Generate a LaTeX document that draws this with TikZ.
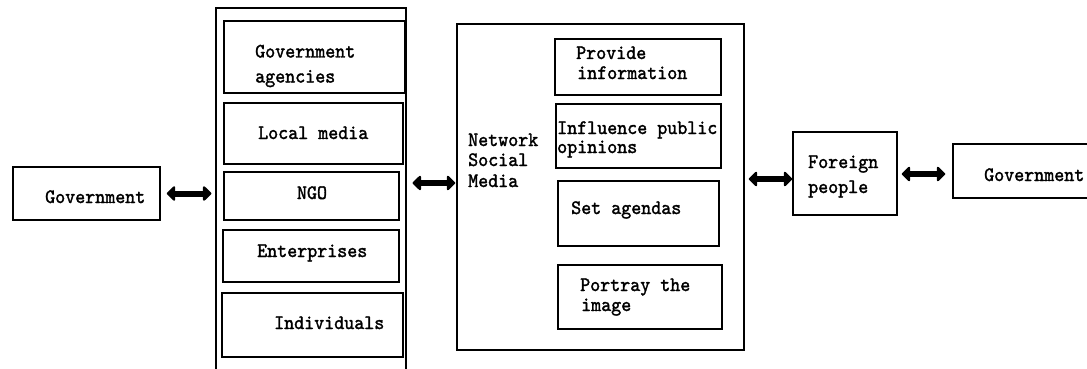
\documentclass[tikz,border=0pt]{standalone}
\usepackage{fontspec}
\usetikzlibrary{arrows.meta}
\newfontfamily\diagfont[FakeBold=1.6,FakeStretch=0.93]{lmmono10-regular.otf}
\begin{document}
\begin{tikzpicture}[x=1pt,y=-1pt,
  box/.style={draw, line width=1.5pt, inner sep=0pt, minimum width=#1},
  lbl/.style={inner sep=0pt, font=\diagfont\fontsize{20.5}{20}\selectfont, anchor=base west},
  dbl/.style={line width=6pt, {Triangle[length=9pt,width=17pt,round]}-{Triangle[length=9pt,width=17pt,round]}}
]
\useasboundingbox (0,0) rectangle (1087,369);
\fill[white] (0,0) rectangle (1087,369);
% boxes
\node[box=147pt, minimum height=53pt] (govL) at (86.5,193.5) {};
\node[box=190pt, minimum height=372pt, line width=1.2pt] (outer) at (311,194) {};
\node[box=181pt, minimum height=72pt] (ga) at (314.5,57) {};
\node[box=179pt, minimum height=61pt] (lm) at (313.5,133.5) {};
\node[box=175pt, minimum height=48pt] (ngo) at (311.5,196) {};
\node[box=176pt, minimum height=52pt] (ent) at (311,256) {};
\node[box=181pt, minimum height=64pt] (ind) at (312.5,325) {};
\node[box=287pt, minimum height=326pt] (nsm) at (600.5,187) {};
\node[box=166pt, minimum height=56pt] (pi) at (638,67) {};
\node[box=165pt, minimum height=64pt] (ipo) at (638.5,136) {};
\node[box=161pt, minimum height=65pt] (sa) at (638.5,213.5) {};
\node[box=164pt, minimum height=64pt] (pt) at (640,297) {};
\node[box=104pt, minimum height=83pt] (fp) at (845,173.5) {};
\node[box=147pt, minimum height=54pt] (govR) at (1026.5,171) {};
% texts
\node[lbl] (tgovL) at (45,203) {Government};
\node[lbl] (tga1) at (255,57.5) {Government};
\node[lbl] (tga2) at (255,82.5) {agencies};
\node[lbl] (tlm) at (258,139) {Local media};
\node[lbl, anchor=base] (tngo) at (312,199) {NGO};
\node[lbl] (tent) at (257,257) {Enterprises};
\node[lbl] (tind) at (274,329) {Individuals};
\node[lbl] (tn1) at (468,146) {Network};
\node[lbl] (tn2) at (468,166) {Social};
\node[lbl] (tn3) at (468,187) {Media};
\node[lbl] (tpi1) at (576,59) {Provide};
\node[lbl] (tpi2) at (577,79) {information};
\node[lbl] (tipo1) at (557,134) {Influence public};
\node[lbl] (tipo2) at (557,153) {opinions};
\node[lbl] (tsa) at (571,214) {Set agendas};
\node[lbl] (tpt1) at (580,291) {Portray the};
\node[lbl] (tpt2) at (581,311) {image};
\node[lbl] (tfp1) at (808,168) {Foreign};
\node[lbl] (tfp2) at (808,193) {people};
\node[lbl] (tgovR) at (984,181) {Government};
% arrows
\coordinate (y1) at (0,193.5);
\coordinate (y2) at (0,183);
\coordinate (y3) at (0,179);
\coordinate (y4) at (0,174);
\draw[dbl, shorten <=6pt, shorten >=4pt] (govL.east |- y1) -- (outer.west |- y1);
\draw[dbl, shorten <=6pt, shorten >=1pt] (outer.east |- y2) -- (nsm.west |- y2);
\draw[dbl, shorten <=4pt, shorten >=0pt] (nsm.east |- y3) -- (fp.west |- y3);
\draw[dbl, shorten <=4pt, shorten >=7pt] (fp.east |- y4) -- (govR.west |- y4);
\end{tikzpicture}
\end{document}
